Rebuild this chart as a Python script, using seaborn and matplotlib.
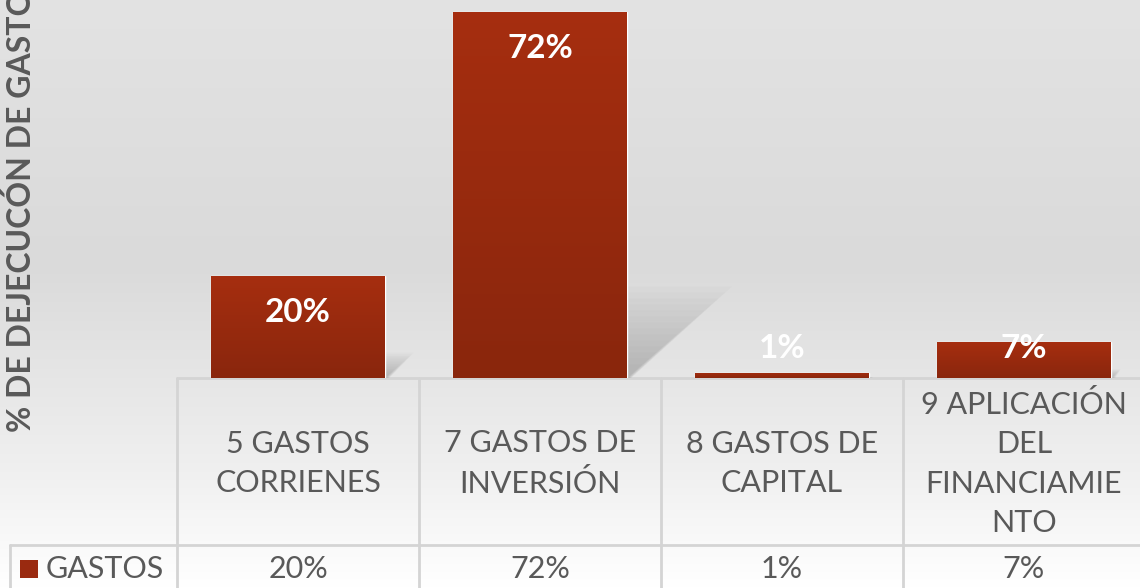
import numpy as np
import pandas as pd
import matplotlib.pyplot as plt
import seaborn as sns
from matplotlib.patches import Rectangle, Polygon

# Data
categories = ["5 GASTOS\nCORRIENES", "7 GASTOS DE\nINVERSIÓN", "8 GASTOS DE\nCAPITAL",
              "9 APLICACIÓN\nDEL\nFINANCIAMIE\nNTO"]
gastos = [0.20, 0.72, 0.01, 0.07]
series_name = "GASTOS"
y_label = "% DE DEJECUCÓN DE GASTO"

df = pd.DataFrame({"categoria": categories, "valor": gastos})

sns.set_style("white")
plt.rcParams['font.family'] = ['Lato', 'DejaVu Sans']

W, H = 1140, 588
TXT = '#595959'
GRID = '#d4d4d4'
RED_TOP, RED_BOT = np.array([0.65, 0.18, 0.06]), np.array([0.54, 0.15, 0.05])

fig = plt.figure(figsize=(W / 100, H / 100), dpi=100)

# background gradient (pixel coordinates axes)
bg = fig.add_axes([0, 0, 1, 1], zorder=-10)
bg.set_xlim(0, W)
bg.set_ylim(H, 0)
bg.axis('off')
rows = np.linspace(0, 1, 400)
shade = np.interp(rows, [0, 0.45, 0.8, 1], [0.89, 0.855, 0.94, 1.0])
grad = np.repeat(shade[:, None], 2, axis=1)
bg.imshow(np.dstack([grad] * 3), extent=[0, W, H, 0], aspect='auto', zorder=0)

# main bar axes
x0, base, colw = 177, 378, 242
ax = fig.add_axes([x0 / W, (H - base) / H, 4 * colw / W, base / H])
ax.patch.set_alpha(0)
sns.barplot(data=df, x="categoria", y="valor", color='#9a2a10', width=0.715,
            saturation=1, ax=ax)
ax.set_xlim(-0.5, 3.5)
ax.set_ylim(0, base / 508)
ax.axis('off')

# gradient fill + soft shadow on bars
g = np.linspace(0, 1, 100)[:, None]
bar_img = RED_TOP[None, None, :] * (1 - g[..., None]) + RED_BOT[None, None, :] * g[..., None]
bar_img = np.repeat(bar_img, 2, axis=1)
for p in ax.patches:
    bx, bw, bh = p.get_x(), p.get_width(), p.get_height()
    im = ax.imshow(bar_img, extent=[bx, bx + bw, 0, bh], aspect='auto', zorder=3)
    im.set_clip_path(p)
    p.set_zorder(3)
    # perspective shadow behind the bar, faded by stacking
    dx = bh * 1.1
    for s in np.linspace(1.0, 0.15, 14):
        poly = Polygon([(bx + bw * 0.25, 0), (bx + bw + 0.02 * s, 0),
                        (bx + bw + dx * 0.55 * s, bh * 0.25 * s),
                        (bx + bw * 0.25 + dx * 0.55 * s, bh * 0.25 * s)],
                       closed=True, facecolor='#555555', alpha=0.022, lw=0, zorder=1)
        ax.add_patch(poly)
ax.set_xlim(-0.5, 3.5)
ax.set_ylim(0, base / 508)

# data labels
for i, v in enumerate(gastos):
    ax.text(i, max(v - 0.071, 0.059), f"{v:.0%}", ha='center', va='center',
            color='white', fontsize=24, fontweight='bold', zorder=5)

# data table
row1, row2 = 545, H
for i in range(5):
    xe = x0 + i * colw
    bg.plot([xe, xe], [base, row2], color=GRID, lw=2, zorder=2)
bg.plot([10, 10], [row1, row2], color=GRID, lw=2, zorder=2)
bg.plot([x0, W], [base, base], color=GRID, lw=2, zorder=2)
bg.plot([10, W], [row1, row1], color=GRID, lw=2, zorder=2)
for i, (c, v) in enumerate(zip(categories, gastos)):
    cx = x0 + (i + 0.5) * colw
    bg.text(cx, (base + row1) / 2 + 2, c, ha='center', va='center', color=TXT,
            fontsize=22, linespacing=1.5, zorder=3)
    bg.text(cx, 569, f"{v:.0%}", ha='center', va='center', color=TXT,
            fontsize=22, zorder=3)
bg.add_patch(Rectangle((20, 560), 18, 18, facecolor='#9a2a10', lw=0, zorder=3))
bg.text(46, 569, series_name, ha='left', va='center', color=TXT, fontsize=22, zorder=3)

# y axis title
bg.text(21, 432, y_label, rotation=90, ha='center', va='bottom', color=TXT,
        fontsize=23, fontweight='bold', zorder=3)

fig.savefig('out.png', dpi=100)
